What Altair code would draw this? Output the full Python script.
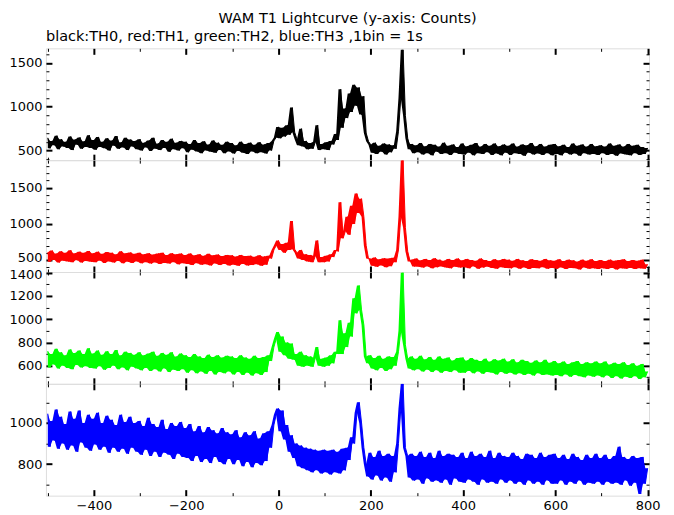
import altair as alt
import pandas as pd

# time grid (s), one value every 5 s (alternating high/low of the noisy band)
T = list(range(-500, 801, 5))

TH0 = [
    645, 525, 610, 560, 670, 515, 630, 545, 600, 530, 660, 505, 625, 565, 650, 520, 605, 540, 675, 530,
    620, 510, 655, 540, 600, 525, 640, 500, 615, 555, 665, 520, 595, 535, 645, 505, 625, 545, 610, 515,
    630, 500, 590, 535, 615, 495, 645, 520, 580, 505, 620, 530, 600, 485, 635, 515, 590, 500, 610, 525,
    600, 480, 575, 510, 620, 490, 585, 470, 605, 500, 570, 485, 615, 475, 590, 505, 565, 470, 600, 490,
    585, 465, 560, 495, 600, 475, 575, 460, 590, 490, 565, 470, 595, 480, 570, 465, 585, 500, 610, 650,
    770, 640, 760, 660, 790, 680, 990, 710, 630, 560, 750, 545, 610, 515, 585, 520, 600, 790, 505, 575,
    515, 595, 505, 610, 570, 690, 620, 1200, 760, 980, 870, 1150, 940, 1250, 1010, 1220, 910, 1120, 700, 605,
    565, 475, 590, 460, 555, 485, 580, 455, 570, 480, 560, 520, 720, 1100, 1650, 900, 640, 515, 575, 470,
    560, 480, 585, 455, 550, 470, 575, 445, 565, 485, 545, 460, 590, 470, 555, 450, 570, 475, 540, 460,
    580, 455, 550, 475, 565, 445, 585, 470, 545, 460, 575, 480, 555, 450, 580, 465, 550, 445, 570, 475,
    555, 450, 580, 470, 545, 460, 570, 440, 560, 475, 585, 455, 550, 465, 575, 450, 545, 470, 565, 445,
    575, 460, 550, 445, 565, 475, 540, 455, 580, 465, 555, 440, 570, 470, 545, 455, 575, 460, 550, 450,
    560, 470, 545, 450, 580, 460, 555, 440, 570, 465, 545, 455, 575, 445, 555, 470, 565, 450, 540, 460,
    530,
]

TH1 = [
    605, 475, 630, 500, 590, 465, 620, 490, 600, 480, 635, 470, 595, 495, 615, 465, 600, 485, 625, 475,
    595, 470, 615, 490, 585, 460, 610, 480, 600, 465, 580, 485, 620, 455, 595, 475, 605, 460, 585, 480,
    600, 455, 580, 470, 595, 450, 575, 465, 590, 445, 600, 460, 570, 450, 595, 470, 580, 440, 590, 455,
    570, 445, 590, 430, 565, 455, 580, 435, 560, 440, 585, 425, 565, 450, 575, 430, 555, 445, 570, 425,
    565, 435, 550, 420, 570, 445, 555, 425, 560, 430, 545, 440, 565, 420, 550, 435, 560, 520, 640, 700,
    770, 640, 720, 600, 740, 640, 1040, 650, 600, 520, 640, 500, 580, 480, 570, 470, 560, 770, 470, 540,
    470, 560, 480, 580, 540, 640, 620, 1300, 800, 900, 1100, 850, 1250, 1000, 1420, 1150, 1350, 1100, 700, 520,
    515, 420, 535, 405, 510, 425, 525, 400, 520, 415, 530, 470, 640, 1100, 1880, 950, 620, 480, 505, 410,
    520, 405, 495, 395, 515, 410, 500, 385, 525, 400, 505, 410, 490, 395, 515, 385, 500, 405, 520, 395,
    495, 400, 515, 385, 500, 410, 490, 380, 520, 395, 500, 405, 485, 390, 510, 380, 495, 400, 515, 390,
    505, 385, 490, 400, 515, 380, 495, 395, 485, 375, 510, 390, 500, 385, 490, 400, 515, 380, 495, 390,
    490, 380, 510, 395, 485, 375, 505, 390, 495, 385, 480, 370, 505, 395, 490, 380, 510, 385, 485, 375,
    500, 385, 485, 375, 505, 390, 490, 370, 500, 385, 510, 380, 485, 390, 500, 375, 490, 385, 505, 380,
    440,
]

TH2 = [
    725, 585, 700, 610, 745, 575, 715, 600, 690, 580, 740, 570, 710, 605, 730, 585, 700, 595, 750, 580,
    705, 575, 730, 595, 695, 565, 725, 580, 700, 600, 735, 570, 690, 585, 720, 560, 710, 590, 695, 575,
    715, 560, 690, 580, 705, 555, 720, 570, 685, 550, 710, 575, 695, 545, 715, 565, 680, 555, 705, 570,
    690, 540, 675, 560, 700, 535, 680, 550, 665, 530, 695, 555, 675, 525, 690, 545, 670, 535, 685, 550,
    680, 525, 665, 545, 690, 520, 670, 540, 660, 515, 685, 535, 665, 520, 675, 545, 690, 640, 760, 830,
    890, 720, 850, 690, 800, 660, 790, 650, 700, 600, 720, 590, 690, 600, 680, 590, 670, 760, 600, 660,
    590, 670, 600, 690, 620, 720, 700, 990, 700, 880, 760, 970, 850, 1180, 1050, 1290, 1080, 950, 680, 620,
    690, 575, 665, 560, 685, 580, 660, 555, 680, 570, 675, 600, 720, 900, 1400, 780, 660, 575, 680, 560,
    660, 570, 685, 550, 655, 565, 675, 545, 650, 560, 680, 540, 660, 555, 670, 545, 645, 560, 665, 540,
    670, 540, 645, 555, 665, 535, 650, 550, 640, 530, 660, 545, 635, 540, 655, 525, 645, 545, 660, 530,
    635, 540, 655, 525, 630, 535, 650, 520, 640, 530, 625, 515, 645, 535, 630, 520, 650, 525, 625, 515,
    640, 520, 620, 510, 635, 525, 615, 505, 630, 520, 640, 510, 615, 500, 630, 515, 620, 505, 635, 515,
    620, 500, 635, 515, 610, 495, 625, 510, 615, 490, 630, 505, 605, 495, 620, 510, 600, 485, 615, 500,
    550,
]

TH3 = [
    1045, 885, 1010, 915, 1065, 875, 1030, 900, 995, 870, 1055, 890, 1020, 860, 1060, 905, 1000, 880, 1040, 865,
    1020, 895, 1050, 870, 1000, 885, 1035, 855, 1015, 880, 990, 860, 1040, 875, 1005, 850, 1030, 880, 1000, 860,
    1010, 845, 985, 870, 1025, 840, 995, 860, 980, 835, 1015, 855, 970, 845, 1000, 825, 985, 850, 1005, 835,
    975, 830, 995, 815, 960, 840, 985, 810, 955, 825, 980, 805, 965, 835, 950, 810, 975, 800, 955, 825,
    945, 800, 965, 820, 930, 790, 955, 810, 940, 785, 960, 805, 925, 795, 950, 815, 960, 880, 990, 1040,
    1070, 960, 1060, 920, 990, 860, 940, 830, 900, 790, 890, 780, 880, 770, 875, 760, 870, 770, 865, 755,
    870, 760, 865, 750, 870, 760, 860, 755, 875, 770, 880, 820, 930, 900, 1050, 1100, 1000, 880, 800, 740,
    855, 725, 835, 745, 865, 720, 840, 735, 850, 715, 840, 760, 900, 1070, 1190, 880, 840, 735, 850, 720,
    840, 725, 860, 705, 835, 730, 855, 715, 830, 720, 865, 710, 840, 725, 850, 700, 845, 730, 835, 715,
    855, 710, 830, 725, 860, 715, 840, 700, 850, 725, 835, 710, 865, 715, 830, 705, 855, 725, 840, 710,
    835, 720, 855, 705, 840, 715, 825, 700, 850, 720, 845, 705, 830, 715, 855, 700, 835, 720, 845, 705,
    850, 705, 830, 720, 845, 700, 825, 715, 850, 705, 835, 720, 820, 700, 845, 710, 830, 705, 850, 715,
    830, 700, 845, 715, 825, 705, 840, 710, 885, 700, 835, 720, 825, 695, 840, 710, 830, 655, 835, 705,
    780,
]

for s in (TH0, TH1, TH2, TH3):
    assert len(s) == len(T)

X_DOMAIN = [-504, 803]
X_LABELS = [-400, -200, 0, 200, 400, 600, 800]
X_TICKS = list(range(-500, 801, 100))

FONT = "DejaVu Sans"
W, H = 604, 112


def cond(test, big, small):
    return {"condition": {"test": test, "value": big}, "value": small}


def panel(values, color, domain, major, ticks, labels, show_x, title=None, nudge=None):
    df = pd.DataFrame({"t": T, "v": values})
    xs = alt.Scale(domain=X_DOMAIN, nice=False, zero=False)
    ys = alt.Scale(domain=domain, nice=False, zero=False)
    base = alt.Chart(df)
    xa = (alt.Axis(orient="bottom", values=X_LABELS, ticks=False, domain=False, grid=False,
                   labelPadding=4, labelFlush=False, labelOverlap=False, title=None, format="d",
                   labelFont=FONT, labelFontSize=13, labelColor="black")
          if show_x else None)
    ya_kw = dict(orient="left", values=labels, ticks=False, domain=False, grid=False, labelPadding=4,
                 labelOverlap=False, labelFlush=False, format="d", title=None, labelFont=FONT,
                 labelFontSize=13, labelColor="black")
    if nudge:
        ya_kw["labelOffset"] = cond(f"datum.value === {nudge[0]}", nudge[1], 0)
    band = base.transform_window(
        hi="max(v)", lo="min(v)", frame=[0, 1], sort=[alt.SortField("t")]
    ).mark_area(color=color, opacity=1, clip=True).encode(
        x=alt.X("t:Q", scale=xs, axis=xa),
        y=alt.Y("hi:Q", scale=ys, axis=alt.Axis(**ya_kw)),
        y2="lo:Q",
    )
    line = base.mark_line(color=color, strokeWidth=1, clip=True).encode(
        x=alt.X("t:Q", scale=xs, axis=None),
        y=alt.Y("v:Q", scale=ys, axis=None),
    )
    xt = "datum.value % 200 === 0"
    yt = f"datum.value % {major} === 0"
    common_x = dict(values=X_TICKS, labels=False, domain=False, grid=False, title=None,
                    tickColor="black", tickSize=cond(xt, 6, 3), tickWidth=cond(xt, 2, 1))
    common_y = dict(values=ticks, labels=False, domain=False, grid=False, title=None,
                    tickColor="black", tickSize=cond(yt, 6, 3), tickWidth=cond(yt, 2, 1))
    l2 = base.mark_line(opacity=0).encode(
        x=alt.X("t:Q", scale=xs, axis=alt.Axis(orient="top", offset=-H, **common_x)),
        y=alt.Y("v:Q", scale=ys, axis=alt.Axis(orient="right", offset=-W, **common_y)),
    )
    l3 = base.mark_line(opacity=0).encode(
        x=alt.X("t:Q", scale=xs, axis=alt.Axis(orient="bottom", offset=-H, **common_x)),
        y=alt.Y("v:Q", scale=ys, axis=alt.Axis(orient="left", offset=-W, **common_y)),
    )
    props = dict(width=W, height=H)
    if title:
        props["title"] = alt.TitleParams(title, anchor="start", frame="group", fontSize=14.5,
                                         fontWeight="normal", font=FONT, color="black", offset=3)
    return alt.layer(band, line, l2, l3).resolve_axis(x="independent", y="independent").properties(**props)


p1 = panel(TH0, "#000000", [390, 1667], 500, list(range(400, 1601, 100)), [500, 1000, 1500], False,
           "black:TH0, red:TH1, green:TH2, blue:TH3 ,1bin = 1s")
p2 = panel(TH1, "#ff0000", [334, 1883], 500, list(range(400, 1801, 100)), [500, 1000, 1500], False,
           nudge=(500, -2))
p3 = panel(TH2, "#00ff00", [444, 1406], 200, list(range(500, 1401, 100)), [600, 800, 1000, 1200, 1400], False,
           nudge=(1400, 2))
p4 = panel(TH3, "#0000ff", [647, 1190], 200, list(range(700, 1101, 100)), [800, 1000], True)

chart = alt.vconcat(p1, p2, p3, p4, spacing=0, bounds="flush").properties(
    title=alt.TitleParams("WAM T1 Lightcurve (y-axis: Counts)", anchor="middle", frame="group",
                          fontSize=14.5, fontWeight="normal", font=FONT, color="black", offset=2),
    padding={"left": 0, "top": 2, "right": 5, "bottom": 3},
).configure_view(stroke="black", strokeWidth=1.5).configure(background="white")

chart.save("out.html", embed_options={"renderer": "svg", "actions": False})
